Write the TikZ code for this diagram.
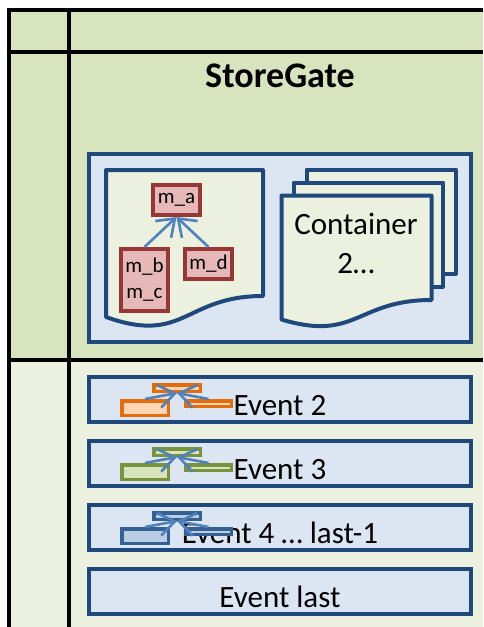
\documentclass[tikz,border=0pt]{standalone}
\usepackage{fontspec}
\setmainfont{Carlito}
\usetikzlibrary{arrows.meta}
\definecolor{sgback}{HTML}{D7E4BD}
\definecolor{evback}{HTML}{EBF1DE}
\definecolor{boxblue}{HTML}{1F497D}
\definecolor{boxfill}{HTML}{DCE6F2}
\definecolor{pagefill}{HTML}{EBF1DE}
\definecolor{memborder}{HTML}{953735}
\definecolor{memfill}{HTML}{E6B9B8}
\definecolor{arrowblue}{HTML}{4F81BD}
\definecolor{minorange}{HTML}{E46C0A}
\definecolor{minorangefill}{HTML}{FCD5B5}
\definecolor{mingreen}{HTML}{77933C}
\definecolor{mingreenfill}{HTML}{D7E4BD}
\definecolor{minblue}{HTML}{376092}
\definecolor{minbluefill}{HTML}{B9CDE5}
\begin{document}
\begin{tikzpicture}[x=1pt,y=-1pt,
    tableline/.style={line width=4pt,line join=miter},
    bluebox/.style={draw=boxblue,fill=boxfill,line width=4pt,inner sep=0pt},
    page/.style={draw=boxblue,fill=pagefill,line width=4pt,line join=round},
    membox/.style={draw=memborder,fill=memfill,line width=4pt,minimum width=47,minimum height=30,inner sep=0pt,align=center,font=\fontsize{21}{26}\selectfont},
    minibox/.style={line width=3.5pt,inner sep=0pt,minimum width=46.5},
    memarrow/.style={draw=arrowblue,line width=2.6pt,-{Straight Barb[length=16pt,width=23pt]}},
    evtext/.style={anchor=base,font=\fontsize{31}{39}\selectfont}]
\useasboundingbox (0,0) rectangle (483,627);
% table background and grid
\fill[sgback] (9,9.5) rectangle (483,360);
\fill[evback] (9,360) rectangle (483,627);
\draw[tableline] (9,627) -- (9,9.5) -- (483,9.5);
\draw[tableline] (69,9.5) -- (69,627);
\draw[tableline] (9,52) -- (483,52);
\draw[tableline] (9,360) -- (483,360);
\node[anchor=base,font=\fontsize{36}{40}\selectfont\bfseries] (sgtitle) at (280,87) {StoreGate};
% storegate box
\node[bluebox,minimum width=382,minimum height=188] (sgbox) at (280,248) {};
% first container
\draw[page] (106,170) -- (263,170) -- (263,296) .. controls (184.5,296) and (184.5,345) .. (106,317) -- cycle;
\node[membox] (ma) at (176.5,200) {m\_a};
\node[membox,minimum height=62] (mb) at (144.5,280) {m\_b\\m\_c};
\node[membox] (md) at (208.5,264) {m\_d};
\draw[memarrow] (mb.north) -- (ma.south);
\draw[memarrow] (md.north) -- (ma.south);
% container stack
\draw[page] (306.5,169.5) rectangle (455.5,274);
\draw[page] (294,182.5) rectangle (443,287);
\draw[page] (281.5,195.5) -- (431.5,195.5) -- (431.5,300) .. controls (356.5,300) and (356.5,342) .. (281.5,319.5) -- cycle;
\node[align=center,font=\fontsize{31}{39}\selectfont] (cont) at (356,243) {Container\\2…};
% events
\foreach \t/\n/\txt in {375/2/Event 2,439/3/Event 3,503/4/{Event 4 … last-1},567/5/Event last}{
  \node[bluebox,minimum width=382,minimum height=45] (ev\n) at (280,\t+24.5) {};
  \node[evtext] (ev\n-text) at (280,\t+40) {\txt};
}
\foreach \t/\n/\bc/\fc in {375/2/minorange/minorangefill,439/3/mingreen/mingreenfill,503/4/minblue/minbluefill}{
  \node[minibox,draw=\bc,fill=\fc,minimum height=6.5] (e\n-a) at (177,\t+13) {};
  \node[minibox,draw=\bc,fill=\fc,minimum height=14.5] (e\n-b) at (145,\t+33) {};
  \node[minibox,draw=\bc,fill=\fc,minimum height=5.5,minimum width=45.5] (e\n-d) at (208.5,\t+28.5) {};
  \draw[memarrow] (e\n-b.north) -- (e\n-a.south);
  \draw[memarrow] (e\n-d.north) -- (e\n-a.south);
}
\end{tikzpicture}
\end{document}
